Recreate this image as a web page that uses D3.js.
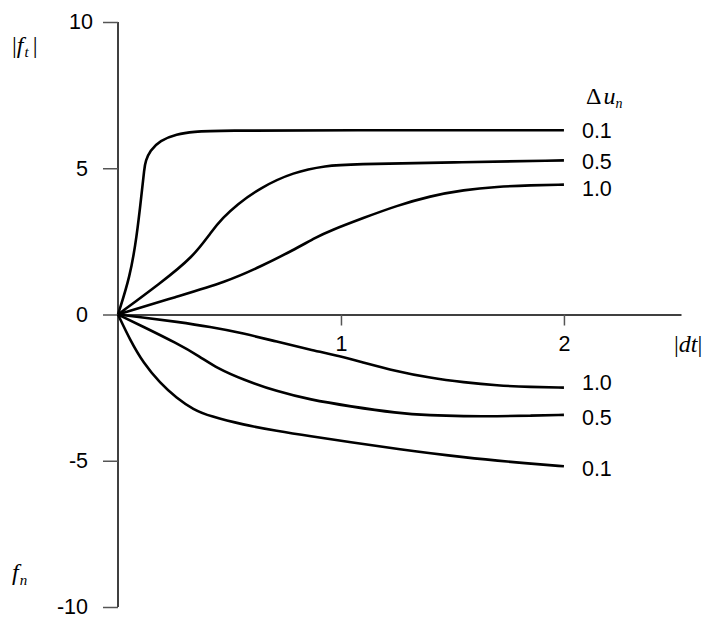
<!DOCTYPE html>
<html lang="en">
<head>
    <meta charset="UTF-8">
    <title>Friction response curves</title>
    <script src="https://d3js.org/d3.v7.min.js"></script>
    <style>
        body {
            margin: 0;
            background: #fff;
        }
        .tick text {
            font-family: "Liberation Sans", Arial, sans-serif;
            font-size: 21.5px;
            fill: #000;
        }
        .tick line {
            stroke: #555;
            stroke-width: 1.5;
        }
        .domain {
            stroke: #000;
            stroke-width: 1.5;
        }
        .curve {
            fill: none;
            stroke: #000;
            stroke-width: 2.6;
        }
        .end-label {
            font-family: "Liberation Sans", Arial, sans-serif;
            font-size: 21.5px;
        }
        .math {
            font-family: "Liberation Serif", "Times New Roman", serif;
            font-size: 24px;
        }
    </style>
</head>
<body>
<div id="chart"></div>
<script>
    // Values: [|dt|, force]
    const upper01 = [[0, 0], [0.054, 1.29], [0.084, 2.65], [0.106, 4.13], [0.118, 5.0], [0.124, 5.25],
        [0.143, 5.6], [0.188, 5.95], [0.263, 6.17], [0.338, 6.25], [0.45, 6.29], [1, 6.3], [2, 6.3]];
    const upper05 = [[0, 0], [0.188, 1.06], [0.338, 1.97], [0.42, 2.85], [0.47, 3.3], [0.532, 3.75],
        [0.637, 4.33], [0.786, 4.87], [0.936, 5.09], [1.04, 5.14], [1.5, 5.2], [2, 5.27]];
    const upper10 = [[0, 0], [0.263, 0.61], [0.487, 1.12], [0.637, 1.63], [0.786, 2.2], [0.891, 2.65],
        [0.95, 2.86], [1.1, 3.3], [1.25, 3.72], [1.4, 4.05], [1.55, 4.26], [1.7, 4.37], [1.85, 4.42], [2, 4.44]];
    const lower10 = [[0, 0], [0.114, -0.1], [0.263, -0.25], [0.413, -0.42], [0.562, -0.64], [0.712, -0.93],
        [0.861, -1.2], [1.0, -1.43], [1.1, -1.64], [1.25, -1.94], [1.4, -2.17], [1.55, -2.32], [1.7, -2.43],
        [1.85, -2.48], [2, -2.5]];
    const lower05 = [[0, 0], [0.114, -0.42], [0.263, -0.98], [0.368, -1.44], [0.443, -1.83], [0.562, -2.23],
        [0.712, -2.63], [0.861, -2.91], [1.04, -3.14], [1.25, -3.37], [1.4, -3.45], [1.55, -3.48],
        [1.7, -3.48], [1.85, -3.46], [2, -3.43]];
    const lower01 = [[0, 0], [0.054, -0.87], [0.114, -1.66], [0.188, -2.34], [0.263, -2.86], [0.338, -3.25],
        [0.413, -3.48], [0.562, -3.77], [0.712, -3.98], [0.861, -4.16], [1.04, -4.36], [1.25, -4.6],
        [1.55, -4.89], [1.85, -5.1], [2, -5.19]];

    const seriesNames = ["0.1", "0.5", "1.0", "1.0", "0.5", "0.1"];
    const xTicks = [1, 2];
    const yTicks = [-10, -5, 0, 5, 10];

    const series = [upper01, upper05, upper10, lower10, lower05, lower01];
    // small vertical nudges so the end labels sit as in the original
    const labelNudge = [1, 2, 4, -5, 3, 3];

    const W = 712, H = 624;
    const svg = d3.select("#chart").append("svg")
        .attr("width", W)
        .attr("height", H);

    const x = d3.scaleLinear().domain([0, 2.525]).range([118, 681]);
    const y = d3.scaleLinear().domain([-10, 10]).range([607, 22]);

    // y axis
    svg.append("g")
        .attr("transform", `translate(${x(0)},0)`)
        .call(d3.axisLeft(y).tickValues(yTicks).tickFormat(d => String(d))
            .tickSize(15).tickPadding(15).tickSizeOuter(0))
        .call(g => g.select(".domain").attr("d", `M0,${y(10)}V${y(-10)}`))
        .call(g => g.selectAll(".tick text").filter(d => d === 10).attr("dx", 5));

    // x axis through zero
    svg.append("g")
        .attr("transform", `translate(0,${y(0)})`)
        .call(d3.axisBottom(x).tickValues(xTicks).tickFormat(d => String(d))
            .tickSize(11).tickPadding(10).tickSizeOuter(0));

    const line = d3.line()
        .x(d => x(d[0]))
        .y(d => y(d[1]))
        .curve(d3.curveBasis);

    svg.selectAll(".curve")
        .data(series)
        .join("path")
        .attr("class", "curve")
        .attr("d", line);

    svg.selectAll(".end-label")
        .data(series)
        .join("text")
        .attr("class", "end-label")
        .attr("x", d => x(d[d.length - 1][0]) + 18)
        .attr("y", (d, i) => y(d[d.length - 1][1]) + labelNudge[i])
        .attr("dominant-baseline", "central")
        .text((d, i) => seriesNames[i]);

    // axis titles
    const ft = svg.append("text").attr("class", "math").attr("x", 12).attr("y", 53);
    ft.append("tspan").text("|");
    ft.append("tspan").attr("font-style", "italic").text("f");
    ft.append("tspan").attr("font-style", "italic").attr("font-size", 15).attr("dy", 4).attr("dx", 1).text("t");
    ft.append("tspan").attr("dy", -4).attr("dx", 4).text("|");

    const fn = svg.append("text").attr("class", "math").attr("x", 12).attr("y", 580);
    fn.append("tspan").attr("font-style", "italic").text("f");
    fn.append("tspan").attr("font-style", "italic").attr("font-size", 15).attr("dy", 5).attr("dx", 1).text("n");

    const dt = svg.append("text").attr("class", "math").attr("x", 674).attr("y", 352);
    dt.append("tspan").text("|");
    dt.append("tspan").attr("font-style", "italic").text("dt");
    dt.append("tspan").text("|");

    const du = svg.append("text").attr("class", "math").attr("x", 586).attr("y", 104)
        .attr("font-size", 22);
    du.append("tspan").text("Δ");
    du.append("tspan").attr("font-style", "italic").attr("dx", 2).text("u");
    du.append("tspan").attr("font-style", "italic").attr("font-size", 14).attr("dy", 4).text("n");
</script>
</body>
</html>
